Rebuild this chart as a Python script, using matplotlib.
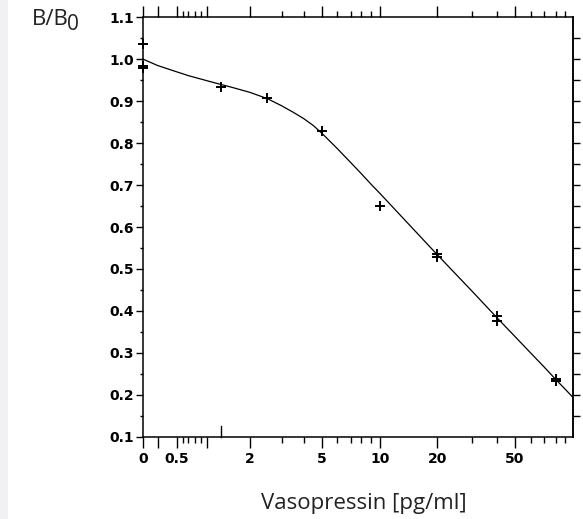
import numpy as np
import matplotlib
matplotlib.use('Agg')
import matplotlib.pyplot as plt
from matplotlib.ticker import FixedLocator, FixedFormatter, NullFormatter
from matplotlib.patches import Rectangle

# ---------------- data ----------------
std_conc = [0, 0, 0, 1.25, 2.5, 5, 10, 20, 20, 40, 40, 80, 80]
std_bb0 = [1.037, 0.983, 0.979, 0.933, 0.907, 0.830, 0.651, 0.536, 0.528,
           0.388, 0.376, 0.238, 0.234]

curve_conc = [0, 0.25, 0.5, 0.7, 1, 1.22, 1.5, 2, 2.5, 3, 3.5, 4, 4.5, 5, 6, 7,
              8, 9, 10, 20, 30, 40, 50, 60, 70, 80, 90, 100]
curve_bb0 = [1.0, 0.985, 0.970, 0.961, 0.949, 0.941, 0.933, 0.921, 0.906, 0.889,
             0.873, 0.858, 0.842, 0.824, 0.787, 0.753, 0.728, 0.703, 0.680,
             0.534, 0.448, 0.383, 0.339, 0.299, 0.266, 0.236, 0.214, 0.193]

x_major = [0, 0.25, 0.5, 1, 2, 5, 10, 20, 50]
x_major_labels = ["0", "", "0.5", "", "2", "5", "10", "20", "50"]
x_minor = [0.6, 0.7, 0.8, 0.9, 3, 4, 6, 7, 8, 9, 30, 40, 60, 70, 80, 90]
y_major = [0.1, 0.2, 0.3, 0.4, 0.5, 0.6, 0.7, 0.8, 0.9, 1.0, 1.1]
y_minor = [0.15, 0.25, 0.35, 0.45, 0.55, 0.65, 0.75, 0.85, 0.95, 1.05]
y_right = [0.15, 0.2, 0.25, 0.3, 0.35, 0.4, 0.45, 0.5, 0.55, 0.6, 0.65, 0.7,
           0.75, 0.8, 0.85, 0.9, 0.95, 1.0, 1.05]
marked_conc = 1.25

# ---------------- custom (broken log) x-scale definition ----------------
scale_vals = [0, 0.25, 0.5, 0.6, 0.7, 0.8, 0.9, 1, 2, 3, 4, 5, 6, 7, 8, 9, 10,
              20, 30, 40, 50, 60, 70, 80, 90, 100]
scale_pos = [143.3, 157.7, 176.7, 183.3, 188.3, 195, 200.7, 206.7, 250, 281.7,
             304, 321.7, 337.3, 351, 361, 370.7, 380, 437.3, 471.7, 497.3, 515,
             531, 544.3, 556, 565, 573.3]
_EPS = 1e-3
_h = np.log10(np.clip(np.array(scale_vals, float), _EPS, None))
_p = np.array(scale_pos, float)


def fwd(x):
    a = np.asarray(x, float)
    h = np.log10(np.clip(a, _EPS, None))
    return np.interp(h.ravel(), _h, _p).reshape(a.shape)


def inv(p):
    a = np.asarray(p, float)
    h = np.interp(a.ravel(), _p, _h).reshape(a.shape)
    out = 10.0 ** h
    return np.where(h <= _h[0], 0.0, out)


# ---------------- figure ----------------
W, H = 583, 519
fig = plt.figure(figsize=(W / 100, H / 100), dpi=100)
fig.patch.set_facecolor('white')
fig.patches.append(Rectangle((0, 0), 8 / W, 1, transform=fig.transFigure,
                             facecolor='#f1f1f3', edgecolor='none', zorder=0))

ax = fig.add_axes([143.3 / W, 1 - 436.8 / H, (573.3 - 143.3) / W, (436.8 - 17.3) / H])
ax.set_xscale('function', functions=(fwd, inv))
ax.set_xlim(0, 100)
ax.set_ylim(0.1, 1.1)

ax.plot(curve_conc, curve_bb0, color='black', lw=0.9, zorder=3)
ax.plot(std_conc, std_bb0, linestyle='none', marker='+', markersize=6.5,
        markeredgewidth=1.4, color='black', zorder=4, clip_on=False)

for s in ax.spines.values():
    s.set_linewidth(1.1)

ax.xaxis.set_major_locator(FixedLocator(x_major))
ax.xaxis.set_major_formatter(FixedFormatter(x_major_labels))
ax.xaxis.set_minor_locator(FixedLocator(x_minor))
ax.xaxis.set_minor_formatter(NullFormatter())
ax.tick_params(axis='x', which='both', bottom=True, top=True, direction='out',
               width=1.0, color='black')
ax.tick_params(axis='x', which='major', length=8, pad=3)
ax.tick_params(axis='x', which='minor', length=4)

ax.yaxis.set_major_locator(FixedLocator(y_major))
ax.yaxis.set_major_formatter(FixedFormatter(['%.1f' % v for v in y_major]))
ax.yaxis.set_minor_locator(FixedLocator(y_minor))
ax.yaxis.set_minor_formatter(NullFormatter())
ax.tick_params(axis='y', which='both', left=True, right=False, direction='out',
               width=1.0, color='black')
ax.tick_params(axis='y', which='major', length=5, pad=1.5)
ax.tick_params(axis='y', which='minor', length=2.5)

for lab in ax.get_xticklabels() + ax.get_yticklabels():
    lab.set_fontfamily('DejaVu Sans')
    lab.set_fontweight('bold')
    lab.set_fontsize(10)

sec = ax.secondary_yaxis('right')
sec.set_yticks(y_right)
sec.yaxis.set_major_formatter(NullFormatter())
sec.tick_params(axis='y', length=5, width=1.0, direction='out')
sec.spines['right'].set_linewidth(1.1)

# inward mark at the lowest non-zero standard on the bottom axis
ax.plot([marked_conc, marked_conc], [0, 0.025], transform=ax.get_xaxis_transform(),
        color='black', lw=1.0, clip_on=False)

label_font = dict(family='Open Sans', size=16, color='#222222')
fig.text(364 / W, 1 - 504 / H, 'Vasopressin [pg/ml]', ha='center', va='center',
         **label_font)
fig.text(31.5 / W, 1 - 25 / H, 'B/B', ha='left', va='baseline', **label_font)
fig.text(67.5 / W, 1 - 30 / H, '0', ha='left', va='baseline',
         family='Open Sans', size=15, color='#222222')

fig.savefig('out.png', dpi=100, facecolor='white')
